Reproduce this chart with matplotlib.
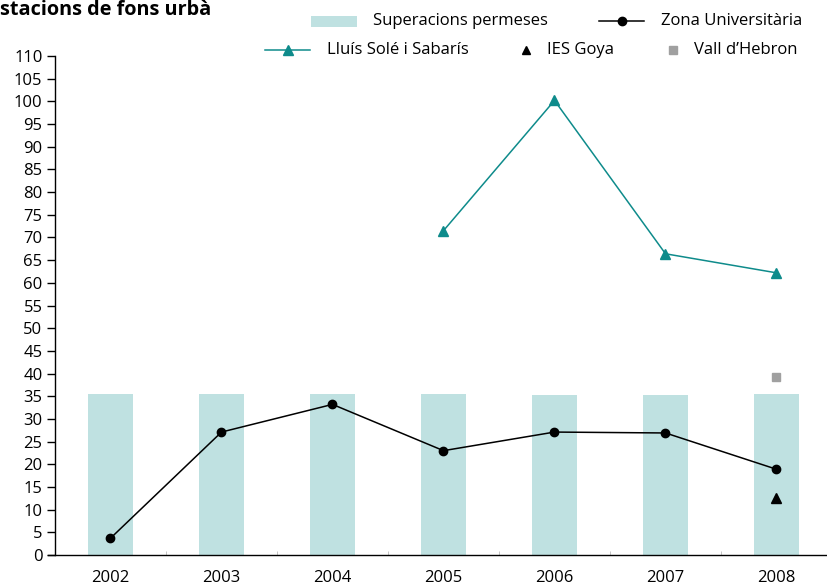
import matplotlib
matplotlib.use("Agg")
import matplotlib.pyplot as plt
from matplotlib.patches import Rectangle

plt.rcParams['font.family'] = ['Open Sans', 'DejaVu Sans']

years = ['2002', '2003', '2004', '2005', '2006', '2007', '2008']
superacions = [35.5, 35.5, 35.5, 35.5, 35.3, 35.3, 35.5]
zona_univ = [3.7, 27.1, 33.2, 23.0, 27.1, 26.9, 18.9]
lluis_years = ['2005', '2006', '2007', '2008']
lluis_sole = [71.5, 100.2, 66.4, 62.2]
goya_years = ['2008']
ies_goya = [12.5]
hebron_years = ['2008']
vall_hebron = [39.2]
yticks = list(range(0, 115, 5))

W, H = 828, 587
fig = plt.figure(figsize=(W / 100, H / 100), dpi=100)
ax = fig.add_axes([55 / W, (H - 555) / H, (832 - 55) / W, (555 - 56) / H])

xpos = {y: i for i, y in enumerate(years)}
x = [xpos[y] for y in years]

bar_c = '#bfe1e1'
teal = '#0e8b8b'
grey = '#a0a0a0'
ax.bar(x, superacions, width=0.41, color=bar_c, zorder=1)
ax.plot(x, zona_univ, color='black', lw=1.1, marker='o', ms=6, zorder=3)
ax.plot([xpos[y] for y in lluis_years], lluis_sole, color=teal, lw=1.1,
        marker='^', ms=6.5, zorder=3)
ax.plot([xpos[y] for y in goya_years], ies_goya, ls='none', color='black',
        marker='^', ms=6.5, zorder=3)
ax.plot([xpos[y] for y in hebron_years], vall_hebron, ls='none', color=grey,
        marker='s', ms=6, zorder=3)

ax.set_xlim(-0.5, 6.5)
ax.set_ylim(0, 110)
ax.set_yticks(yticks)
ax.set_xticks(x)
ax.set_xticklabels(years)
ax.set_xticks([i + 0.5 for i in range(-1, 7)], minor=True)
ax.tick_params(axis='x', which='major', length=0, pad=11, labelsize=12)
ax.tick_params(axis='x', which='minor', length=3, color='#bbbbbb', direction='in')
ax.tick_params(axis='y', length=6, width=1, labelsize=12, pad=3)
for s in ['top', 'right']:
    ax.spines[s].set_visible(False)
ax.spines['left'].set_linewidth(1)
ax.spines['bottom'].set_linewidth(1)
ax.spines['bottom'].set_bounds(-0.565, 6.5)

fig.text(0, 1 - 10 / H, 'stacions de fons urbà', fontsize=14.3, fontweight='bold',
         ha='left', va='center')

# legend drawn in pixel coordinates on an overlay axes
lg = fig.add_axes([0, 0, 1, 1])
lg.set_xlim(0, W)
lg.set_ylim(H, 0)
lg.axis('off')
fs = 12
r1, r2 = 21, 50
# row 1
lg.add_patch(Rectangle((311, r1 - 5.5), 46, 11, facecolor=bar_c, edgecolor='none'))
lg.text(373, r1, 'Superacions permeses', fontsize=fs, va='center', ha='left')
lg.plot([599, 644], [r1, r1], color='black', lw=1.1)
lg.plot([622], [r1], color='black', marker='o', ms=6)
lg.text(661, r1, 'Zona Universitària', fontsize=fs, va='center', ha='left')
# row 2
lg.plot([265, 310], [r2, r2], color=teal, lw=1.1)
lg.plot([288], [r2], color=teal, marker='^', ms=6.5)
lg.text(327, r2, 'Lluís Solé i Sabarís', fontsize=fs, va='center', ha='left')
lg.plot([526], [r2], color='black', marker='^', ms=6, ls='none')
lg.text(547, r2, 'IES Goya', fontsize=fs, va='center', ha='left')
lg.plot([673], [r2], color=grey, marker='s', ms=6, ls='none')
lg.text(694, r2, 'Vall d\u2019Hebron', fontsize=fs, va='center', ha='left')

fig.savefig('out.png', dpi=100)
